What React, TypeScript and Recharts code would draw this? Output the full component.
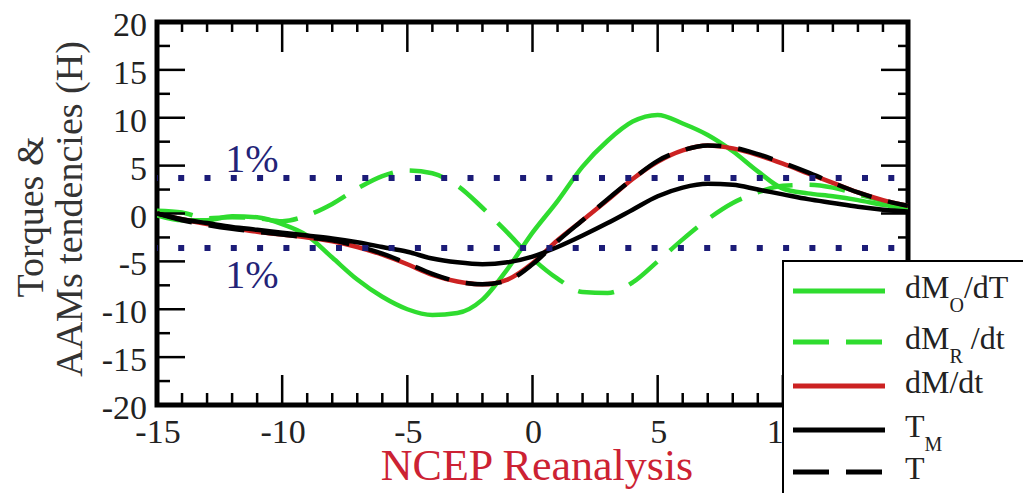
import React from "react";
import { LineChart, Line, XAxis, YAxis, ReferenceLine, ReferenceArea, Legend } from "recharts";

const FONT = "Liberation Serif, DejaVu Serif, serif";

// lag (months)
const lags = [-15, -14, -13, -12, -11, -10, -9, -8, -7, -6, -5, -4, -3, -2, -1, 0, 1, 2, 3, 4, 5, 6, 7, 8, 9, 10, 11, 12, 13, 14, 15];

const dMO = [-0.2, -0.7, -0.7, -0.3, -0.4, -1.1, -2.3, -4.6, -6.9, -8.7, -10.0, -10.6, -10.4, -9.0, -5.8, -2.0, 1.3, 4.9, 7.6, 9.6, 10.3, 9.4, 8.2, 6.5, 4.4, 2.6, 2.1, 1.8, 1.4, 0.9, 0.5];
const dMR = [0.3, 0.1, -0.5, -0.4, -0.5, -0.8, -0.2, 1.0, 2.6, 3.9, 4.5, 4.2, 2.9, 0.6, -2.0, -4.7, -6.8, -8.2, -8.3, -7.2, -5.0, -2.7, -0.6, 1.1, 2.2, 2.9, 3.0, 2.7, 2.0, 1.3, 0.6];
const dM = [0.0, -0.6, -1.1, -1.5, -1.9, -2.2, -2.5, -2.9, -3.5, -4.3, -5.3, -6.4, -7.1, -7.4, -6.9, -5.2, -2.8, -0.7, 1.4, 3.6, 5.4, 6.6, 7.1, 6.8, 6.1, 5.2, 4.2, 3.2, 2.2, 1.4, 0.8];
const TM = [0.0, -0.6, -1.0, -1.4, -1.7, -2.0, -2.3, -2.6, -3.0, -3.5, -4.0, -4.7, -5.1, -5.3, -5.1, -4.5, -3.5, -2.3, -1.0, 0.4, 1.8, 2.7, 3.1, 3.0, 2.5, 2.0, 1.5, 1.1, 0.7, 0.4, 0.2];
const T = [0.0, -0.7, -1.2, -1.6, -1.9, -2.2, -2.5, -2.8, -3.4, -4.2, -5.2, -6.3, -7.1, -7.4, -7.0, -5.3, -2.9, -0.7, 1.5, 3.6, 5.5, 6.6, 7.1, 6.9, 6.2, 5.3, 4.3, 3.2, 2.2, 1.4, 0.8];

// 1% significance levels
const sigUpper = 3.7;
const sigLower = -3.6;

const xMajor = [-15, -10, -5, 0, 5, 10, 15];
const xTicks = [-15, -14, -13, -12, -11, -10, -9, -8, -7, -6, -5, -4, -3, -2, -1, 0, 1, 2, 3, 4, 5, 6, 7, 8, 9, 10, 11, 12, 13, 14, 15];
const yMajor = [-20, -15, -10, -5, 0, 5, 10, 15, 20];
const yTicks = [-20, -17.5, -15, -12.5, -10, -7.5, -5, -2.5, 0, 2.5, 5, 7.5, 10, 12.5, 15, 17.5, 20];

const rows = lags.map((x, i) => ({ x, dMO: dMO[i], dMR: dMR[i], dM: dM[i], TM: TM[i], T: T[i] }));

const GREEN = "#2fdc2f";
const RED = "#cc2222";

const series = [
  { key: "dMO", color: GREEN, dash: undefined, label: ["dM", "O", "/dT"] },
  { key: "dMR", color: GREEN, dash: "36 17", label: ["dM", "R", " /dt"] },
  { key: "dM", color: RED, dash: undefined, label: ["dM/dt", "", ""] },
  { key: "TM", color: "#000", dash: undefined, label: ["T", "M", ""] },
  { key: "T", color: "#000", dash: "36 17", label: ["T", "", ""] },
];

const serif = { fontFamily: FONT };

const BottomTick = (props: any) => {
  const { x, y, payload } = props;
  const major = xMajor.includes(payload.value);
  return (
    <g>
      <line x1={x} x2={x} y1={y} y2={y - (major ? 30 : 12)} stroke="#000" strokeWidth={2.5} />
      {major && (
        <text x={x + 1} y={y + 38} textAnchor="middle" style={serif} fontSize={34} fill="#222">
          {String(payload.value)}
        </text>
      )}
    </g>
  );
};

const TopTick = (props: any) => {
  const { x, y, payload } = props;
  const major = xMajor.includes(payload.value);
  return <line x1={x} x2={x} y1={y} y2={y + (major ? 30 : 10)} stroke="#000" strokeWidth={2.5} />;
};

const LeftTick = (props: any) => {
  const { x, y, payload } = props;
  const major = yMajor.includes(payload.value);
  return (
    <g>
      <line x1={x} x2={x + (major ? 28 : 13)} y1={y} y2={y} stroke="#000" strokeWidth={2.5} />
      {major && (
        <text x={x - 10} y={y + 14} textAnchor="end" style={serif} fontSize={34} fill="#222">
          {String(payload.value)}
        </text>
      )}
    </g>
  );
};

const RightTick = (props: any) => {
  const { x, y, payload } = props;
  const major = yMajor.includes(payload.value);
  return <line x1={x} x2={x - (major ? 27 : 10)} y1={y} y2={y} stroke="#000" strokeWidth={2.5} />;
};

const yLabel = () => (
  <g fontSize={38} fill="#333">
    <text x={43} y={217} transform="rotate(-90 43 217)" textAnchor="middle" style={serif}>Torques &amp;</text>
    <text x={82} y={209} transform="rotate(-90 82 209)" textAnchor="middle" style={serif}>AAMs tendencies (H)</text>
  </g>
);

const xLabel = () => (
  <text x={537} y={480} textAnchor="middle" style={serif} fontSize={44} fill="#cc2233">
    NCEP Reanalysis
  </text>
);

const sigLabel = (dy: number) => (props: any) => {
  const vb = props.viewBox || {};
  return (
    <text x={vb.x + 95} y={vb.y + dy} textAnchor="middle" style={serif} fontSize={40} fill="#232377">
      1%
    </text>
  );
};

const rowY = [29, 80, 124, 168, 210];

const renderLegend = () => (
  <div style={{ width: 262, height: 240, background: "#fff", border: "2px solid #000", boxSizing: "border-box" }}>
    <svg width={258} height={236} style={{ display: "block" }}>
      {series.map((s, i) => {
        const y = rowY[i];
        return (
          <g key={s.key}>
            <line x1={9} x2={101} y1={y} y2={y} stroke={s.color} strokeWidth={5} strokeDasharray={s.dash} />
            <text x={121} y={y + 7} fontSize={32} fill="#222" style={{ ...serif, whiteSpace: "pre" }}>
              {s.label[0]}
              {s.label[1] && (
                <tspan fontSize={20} dy={14}>
                  {s.label[1]}
                </tspan>
              )}
              {s.label[2] && (
                <tspan fontSize={32} dy={-14}>
                  {s.label[2]}
                </tspan>
              )}
            </text>
          </g>
        );
      })}
    </svg>
  </div>
);

const axisCommon = {
  type: "number" as const,
  interval: 0 as const,
  tickSize: 0,
  tickMargin: 0,
  axisLine: false,
  tickLine: false,
  allowDataOverflow: true,
};

export default function App() {
  return (
    <div style={{ position: "absolute", left: 0, top: 0, width: 1023, height: 493, overflow: "hidden", background: "#fff", fontFamily: FONT }}>
      <LineChart width={1023} height={493} data={rows} margin={{ top: 21, right: 114, bottom: 87, left: 156 }}>
        <XAxis {...axisCommon} dataKey="x" domain={[-15, 15]} ticks={xTicks} height={1} tick={BottomTick} label={xLabel} />
        <XAxis {...axisCommon} xAxisId="top" orientation="top" dataKey="x" domain={[-15, 15]} ticks={xTicks} height={1} tick={TopTick} />
        <YAxis {...axisCommon} domain={[-20, 20]} ticks={yTicks} width={1} tick={LeftTick} label={yLabel} />
        <YAxis {...axisCommon} yAxisId="right" orientation="right" domain={[-20, 20]} ticks={yTicks} width={1} tick={RightTick} />
        {series.map((s) => (
          <Line
            key={s.key}
            type="monotone"
            dataKey={s.key}
            stroke={s.color}
            strokeWidth={4.5}
            strokeDasharray={s.dash}
            dot={false}
            activeDot={false}
            isAnimationActive={false}
          />
        ))}
        <ReferenceLine y={sigUpper} stroke="#1c1c78" strokeWidth={6} strokeDasharray="6 20.3" strokeDashoffset={5.1} label={sigLabel(-6)} />
        <ReferenceLine y={sigLower} stroke="#1c1c78" strokeWidth={6} strokeDasharray="6 20.3" strokeDashoffset={5.1} label={sigLabel(40)} />
        <ReferenceArea x1={-15} x2={15} y1={-20} y2={20} fill="none" stroke="#000" strokeWidth={5} fillOpacity={0} />
        <Legend
          layout="vertical"
          align="center"
          verticalAlign="middle"
          wrapperStyle={{ left: 782, top: 260, width: 262, height: 240 }}
          content={renderLegend}
        />
      </LineChart>
    </div>
  );
}
